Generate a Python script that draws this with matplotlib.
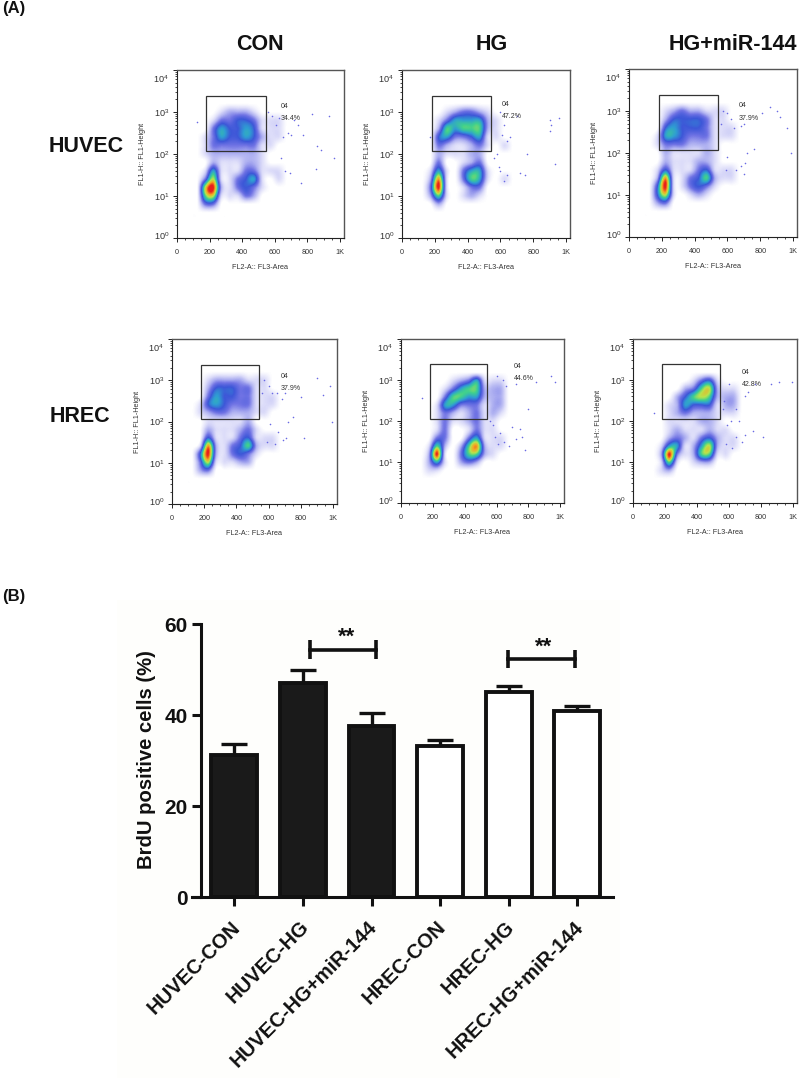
import matplotlib
matplotlib.use("Agg")
import matplotlib.pyplot as plt
from matplotlib.colors import LinearSegmentedColormap
from matplotlib.patches import Rectangle
from matplotlib.ticker import FixedLocator
from matplotlib.transforms import ScaledTranslation

plt.rcParams['font.family'] = ['Liberation Sans', 'DejaVu Sans']
plt.rcParams['mathtext.fontset'] = 'custom'
plt.rcParams['mathtext.rm'] = 'Liberation Sans'
plt.rcParams['mathtext.default'] = 'regular'

W, H = 800, 1085

# ---- Bar chart values -------------------------------------------------
bar_labels = ['HUVEC-CON', 'HUVEC-HG', 'HUVEC-HG+miR-144', 'HREC-CON', 'HREC-HG', 'HREC-HG+miR-144']
bar_values = [31.2, 47.0, 37.6, 33.3, 45.1, 41.0]
bar_errors = [2.4, 2.8, 2.9, 1.3, 1.3, 1.0]
bar_dark = [True, True, True, False, False, False]
bracket_spans = [(1.11, 2.07), (3.99, 4.96)]
bracket_levels = [54.4, 52.3]

# ---- Flow panels: density read per cell of a coarse grid ---------------
grid_x = [125, 175, 225, 275, 325, 375, 425, 475, 525, 575, 625, 675]
grid_y = [3.2, 3.0, 2.8, 2.6, 2.4, 2.2, 2.0, 1.8, 1.6, 1.4, 1.2, 1.0, 0.8, 0.6]

huvec_con = [
    [0,0,0,0,0,0,0,0,0,0,0,0],
    [0,0,0,1,2,2,2,1,0,0,0,0],
    [0,0,1,3,3,4,4,3,1,1,1,0],
    [0,0,3,5,4,4,5,4,1,1,1,0],
    [0,1,3,5,4,4,5,4,2,1,1,0],
    [0,1,3,3,3,3,3,3,1,1,0,0],
    [0,1,2,2,2,2,2,2,1,0,0,0],
    [0,0,2,1,1,1,2,2,1,0,0,0],
    [0,1,5,1,1,1,3,3,1,1,1,0],
    [0,3,7,1,1,3,4,5,1,0,1,0],
    [0,7,9,2,1,3,4,3,1,0,0,0],
    [0,6,7,1,1,1,3,2,0,0,0,0],
    [0,3,3,0,0,0,0,0,0,0,0,0],
    [0,0,0,0,0,0,0,0,0,0,0,0],
]
huvec_hg = [
    [0,0,0,0,0,0,0,0,0,0,0,0],
    [0,0,0,1,2,3,3,2,1,0,0,0],
    [0,0,1,3,5,5,5,5,2,1,0,0],
    [0,0,2,6,5,6,6,6,2,1,0,0],
    [0,0,4,5,3,3,4,5,1,1,0,0],
    [0,0,3,2,1,1,2,3,1,0,1,0],
    [0,0,2,1,1,1,2,2,0,0,0,0],
    [0,0,3,0,0,1,2,3,0,0,0,0],
    [0,1,5,1,0,3,5,5,1,0,0,0],
    [0,2,8,1,0,3,6,5,1,0,1,0],
    [0,3,9,1,0,1,3,3,0,0,0,0],
    [0,2,6,1,0,1,2,1,0,0,0,0],
    [0,0,2,0,0,0,0,0,0,0,0,0],
    [0,0,0,0,0,0,0,0,0,0,0,0],
]
huvec_mir = [
    [0,0,0,0,0,0,0,0,0,0,0,0],
    [0,0,1,2,3,2,2,1,1,1,0,0],
    [0,0,2,4,4,4,4,3,1,1,0,0],
    [0,0,4,5,4,4,4,3,1,1,1,0],
    [0,1,5,5,4,3,3,3,1,1,1,0],
    [0,1,3,3,3,2,2,2,1,0,0,0],
    [0,0,2,1,1,1,1,2,1,0,0,0],
    [0,0,2,1,1,1,2,2,1,0,0,0],
    [0,1,4,1,1,1,3,4,1,1,1,0],
    [0,2,8,1,1,3,4,6,2,1,1,0],
    [0,4,9,1,1,3,4,3,1,0,0,0],
    [0,4,7,1,0,1,2,1,0,0,0,0],
    [0,2,3,0,0,0,0,0,0,0,0,0],
    [0,0,0,0,0,0,0,0,0,0,0,0],
]
hrec_con = [
    [0,0,0,0,0,0,0,0,0,0,0,0],
    [0,0,1,2,2,2,2,1,1,1,0,0],
    [0,0,2,4,4,4,3,3,1,1,0,0],
    [0,0,3,5,4,4,3,3,1,1,1,0],
    [0,1,4,5,4,3,3,3,1,1,1,0],
    [0,1,2,3,3,2,2,2,1,1,0,0],
    [0,0,1,1,1,1,1,2,0,0,0,0],
    [0,0,2,1,1,1,2,3,1,0,0,0],
    [0,0,4,1,1,1,3,4,1,1,1,0],
    [0,1,8,2,1,3,4,6,2,1,1,0],
    [0,4,9,2,1,3,4,3,1,0,0,0],
    [0,3,7,1,1,1,2,2,0,0,0,0],
    [0,2,3,0,0,0,0,0,0,0,0,0],
    [0,0,0,0,0,0,0,0,0,0,0,0],
]
hrec_hg = [
    [0,0,0,0,0,0,0,0,0,0,0,0],
    [0,0,0,0,1,2,3,5,1,1,1,0],
    [0,0,0,1,3,5,6,6,2,2,2,0],
    [0,0,0,3,6,6,5,5,2,2,2,0],
    [0,0,1,5,5,3,3,3,1,2,2,0],
    [0,0,1,3,2,1,2,3,1,2,1,0],
    [0,0,1,3,1,1,2,3,1,1,0,0],
    [0,0,1,3,0,0,1,3,1,1,0,0],
    [0,0,3,3,0,0,3,5,1,1,1,0],
    [0,1,6,2,0,2,6,8,2,1,1,0],
    [0,2,9,1,0,3,6,6,2,1,0,0],
    [0,2,5,1,0,2,3,2,0,0,0,0],
    [0,1,1,0,0,0,0,0,0,0,0,0],
    [0,0,0,0,0,0,0,0,0,0,0,0],
]
hrec_mir = [
    [0,0,0,0,0,0,0,0,0,0,0,0],
    [0,0,0,0,0,1,3,4,1,0,0,0],
    [0,0,0,0,2,3,6,7,2,1,1,0],
    [0,0,0,2,4,6,7,6,2,2,2,0],
    [0,0,1,2,5,4,4,4,1,2,2,0],
    [0,0,1,2,3,2,2,2,1,1,1,0],
    [0,0,1,1,1,1,2,2,1,0,0,0],
    [0,0,1,2,1,1,1,2,1,1,0,0],
    [0,0,2,3,2,1,3,4,2,1,1,0],
    [0,1,5,5,1,2,5,7,2,1,1,0],
    [0,2,9,3,1,2,6,6,1,1,0,0],
    [0,1,6,1,0,1,2,2,0,0,0,0],
    [0,1,2,0,0,0,0,0,0,0,0,0],
    [0,0,0,0,0,0,0,0,0,0,0,0],
]
density_grids = [huvec_con, huvec_hg, huvec_mir, hrec_con, hrec_hg, hrec_mir]

# Isolated events (x, log10 y)
sparse_x = [
    [560,585,610,625,650,680,700,720,745,770,830,860,880,930,960,640,660,690,760,125,850],
    [600,620,640,660,700,760,900,910,900,960,930,600,640,720,750,580,610,170,560,590,620],
    [570,600,620,640,680,700,720,760,810,900,920,960,990,590,650,680,710,560,600,860,700],
    [570,600,620,650,680,700,720,750,800,900,940,980,990,590,640,690,710,560,820,610,660],
    [600,640,660,700,720,750,760,780,850,940,970,800,130,590,620,650,680,580,560,610,720],
    [570,600,640,660,700,720,760,810,860,910,990,640,680,700,590,610,560,130,750,580,620],
]
sparse_y = [
    [3.0,2.9,2.7,2.85,2.4,2.5,2.45,2.8,2.7,2.45,2.95,2.2,2.1,2.9,1.9,1.9,1.6,1.55,1.3,2.75,1.65],
    [3.0,2.7,2.3,2.4,2.9,2.0,2.8,2.7,2.55,2.85,1.75,1.6,1.5,1.55,1.5,2.0,2.45,2.4,1.9,1.7,1.35],
    [3.0,2.95,2.8,2.6,2.65,2.7,2.0,2.1,2.95,3.0,2.85,2.6,2.0,1.6,1.6,1.7,1.75,2.7,1.9,3.1,1.5],
    [3.0,2.85,2.7,2.7,2.55,2.7,2.0,2.1,2.6,3.05,2.65,2.85,2.0,1.5,1.45,1.55,1.6,2.7,1.6,1.95,1.75],
    [3.1,3.0,2.85,1.85,2.9,1.8,1.6,1.3,2.95,3.1,2.95,2.3,2.55,1.6,1.7,1.5,1.4,1.9,2.0,1.45,1.55],
    [2.5,2.9,2.3,2.0,2.6,2.7,2.9,1.6,2.9,2.95,2.95,1.6,1.5,1.65,1.9,2.0,2.3,2.2,1.75,1.45,1.35],
]
gate_pcts = ['34.4%', '47.2%', '37.9%', '37.9%', '44.6%', '42.8%']
gate_label_x = [636, 607, 670, 673, 709, 677]
gate_label_y = [3.14, 3.18, 3.12, 3.10, 3.33, 3.19]
pct_label_y = [2.84, 2.90, 2.82, 2.80, 3.04, 2.90]

panel_boxes = [(177, 344, 70, 238), (402, 570, 70, 238), (629, 797, 69, 237),
               (172, 337, 339, 504), (401, 564, 339, 503), (633, 797, 339, 503)]

flow_cmap = LinearSegmentedColormap.from_list('flow', [
    '#ffffff', '#dcdcf9', '#aeb0f1', '#6f72e4', '#3d57d8', '#2f9ed2',
    '#3fcf8f', '#b8e44c', '#f5a623', '#e8201c'])


def px_axes(fig, left, right, top, bottom):
    return fig.add_axes([left / W, 1 - bottom / H, (right - left) / W, (bottom - top) / H])


fig = plt.figure(figsize=(W / 100, H / 100), dpi=100, facecolor='white')
fig.patches.append(Rectangle((117 / W, 1 - 1078 / H), 503 / W, 478 / H, transform=fig.transFigure,
                             facecolor='#fefefc', edgecolor='none', zorder=-5))

for i, box in enumerate(panel_boxes):
    ax = px_axes(fig, *box)
    ax.imshow(density_grids[i], cmap=flow_cmap, vmin=0, vmax=9, interpolation='spline16',
              extent=(grid_x[0] - 25, grid_x[-1] + 25, grid_y[-1] - 0.1, grid_y[0] + 0.1),
              aspect='auto', zorder=1)
    ax.scatter(sparse_x[i], sparse_y[i], s=1.3, color='#6a6ae4', linewidths=0, zorder=2)
    ax.set_xlim(0, 1024)
    ax.set_ylim(0, 4)
    ax.add_patch(Rectangle((180, 2.06), 363, 1.32, fill=False, edgecolor='#333333', lw=0.9, zorder=3))
    ax.text(gate_label_x[i], gate_label_y[i], '04', fontsize=5, color='#333333', va='center')
    ax.text(gate_label_x[i], pct_label_y[i], gate_pcts[i], fontsize=5, color='#333333', va='center')
    ax.set_xticks([0, 200, 400, 600, 800, 1000])
    ax.set_xticklabels(['0', '200', '400', '600', '800', '1K'], fontsize=5.2, color='#333333')
    ax.xaxis.set_minor_locator(FixedLocator([v for v in range(50, 1024, 50) if v % 200]))
    ax.set_yticks([0, 1, 2, 3, 4])
    ax.set_yticklabels(['$10^{%d}$' % n for n in range(5)], fontsize=6.6, color='#333333')
    ax.yaxis.set_minor_locator(FixedLocator([0.30, 0.48, 0.60, 0.70, 0.78, 0.85, 0.90, 0.95,
                                             1.30, 1.48, 1.60, 1.70, 1.78, 1.85, 1.90, 1.95,
                                             2.30, 2.48, 2.60, 2.70, 2.78, 2.85, 2.90, 2.95,
                                             3.30, 3.48, 3.60, 3.70, 3.78, 3.85, 3.90, 3.95]))
    ax.tick_params(which='major', length=3.2, width=0.6)
    ax.tick_params(which='minor', length=1.6, width=0.5)
    ax.tick_params(axis='x', which='major', pad=5)
    ax.tick_params(axis='y', which='major', pad=2.5)
    for lab, shift in zip(ax.get_yticklabels(), [3, 0, 0, 0, -8]):
        lab.set_transform(lab.get_transform() + ScaledTranslation(0, shift / 100, fig.dpi_scale_trans))
    ax.set_xlabel('FL2-A:: FL3-Area', fontsize=5.2, color='#333333', labelpad=5.5)
    ax.set_ylabel('FL1-H:: FL1-Height', fontsize=5.2, color='#333333', labelpad=5)
    for side in ('top', 'right'):
        ax.spines[side].set_linewidth(1.0)
        ax.spines[side].set_color('#555555')
    for side in ('left', 'bottom'):
        ax.spines[side].set_linewidth(0.8)
        ax.spines[side].set_color('#222222')

# ---- Headings ----------------------------------------------------------
head = dict(fontweight='bold', color='#111111', ha='center', va='center', fontsize=15.5)
for txt, x, y in [('CON', 260, 44), ('HG', 492, 44), ('HG+miR-144', 733, 44),
                  ('HUVEC', 86, 147), ('HREC', 80, 416)]:
    fig.text(x / W, 1 - y / H, txt, **head)
fig.text(2 / W, 1 - 8 / H, '(A)', fontweight='bold', fontsize=12, color='#111111', va='center')
fig.text(2 / W, 1 - 596 / H, '(B)', fontweight='bold', fontsize=12, color='#111111', va='center')

# ---- Bar chart ---------------------------------------------------------
spacing = 68.6
x0 = 234.3
axb = px_axes(fig, 200.7, 612.7, 624, 897.3)
axb.patch.set_alpha(0)
axb.set_xlim((200.7 - x0) / spacing, (612.7 - x0) / spacing)
axb.set_ylim(0, 60)
positions = list(range(len(bar_values)))
for p, v, e, dark in zip(positions, bar_values, bar_errors, bar_dark):
    axb.bar(p, v, width=0.665, facecolor='#1a1a1a' if dark else 'white', edgecolor='#111111',
            linewidth=2.8, zorder=2, clip_on=False)
    axb.errorbar(p, v, yerr=[[0], [e]], color='#111111', elinewidth=2.4, capsize=9.5, capthick=2.4, zorder=1)
for (a, b), lvl in zip(bracket_spans, bracket_levels):
    axb.errorbar([a, b], [lvl, lvl], yerr=2.0, color='#111111', elinewidth=2.6, lw=2.6, capsize=0)
    axb.text((a + b) / 2 + 0.04, lvl + 0.4, '**', ha='center', va='bottom', fontsize=16, fontweight='bold', color='#111111')
axb.set_yticks([0, 20, 40, 60])
axb.set_yticklabels(['0', '20', '40', '60'], fontsize=15, fontweight='bold', color='#111111')
axb.set_xticks(positions)
axb.set_xticklabels(bar_labels, fontsize=14.6, fontweight='bold', color='#111111', rotation=45,
                    ha='right', va='top', rotation_mode='anchor')
axb.tick_params(axis='both', length=6.5, width=2.2, color='#111111')
axb.tick_params(axis='x', pad=8)
axb.tick_params(axis='y', pad=3)
for lab in axb.get_xticklabels():
    lab.set_transform(lab.get_transform() + ScaledTranslation(-4 / 100, 0, fig.dpi_scale_trans))
axb.spines['top'].set_visible(False)
axb.spines['right'].set_visible(False)
axb.spines['left'].set_linewidth(2.2)
axb.spines['bottom'].set_linewidth(2.2)
axb.spines['left'].set_color('#111111')
axb.spines['bottom'].set_color('#111111')
axb.spines['bottom'].set_bounds(axb.get_xlim()[0] - 8.7 / spacing, axb.get_xlim()[1])
fig.text(147 / W, 1 - 760 / H, 'BrdU positive cells (%)', rotation=90, fontsize=14.6, fontweight='bold',
         color='#111111', ha='center', va='center')

fig.savefig('out.png', dpi=100)
